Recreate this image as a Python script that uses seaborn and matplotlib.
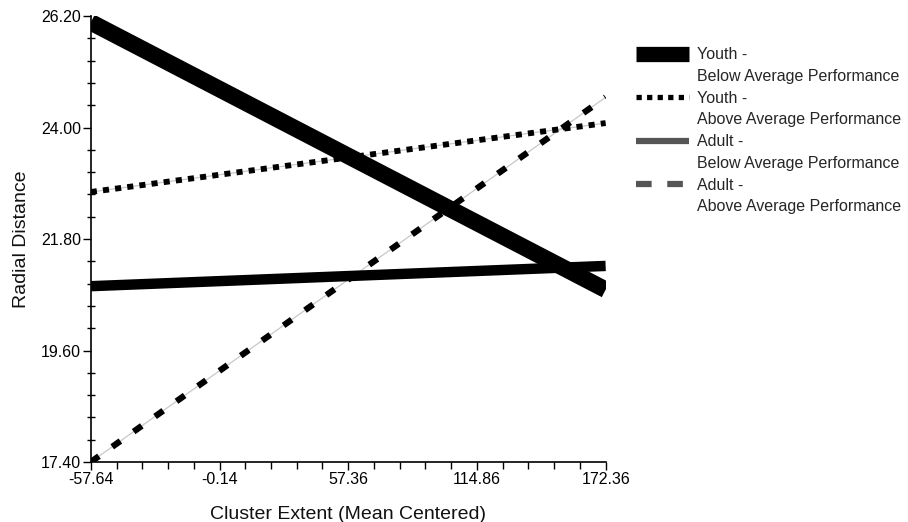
import numpy as np
import pandas as pd
import matplotlib
matplotlib.use('Agg')
import matplotlib.pyplot as plt
import seaborn as sns
from matplotlib.lines import Line2D
from matplotlib.ticker import FixedLocator

sns.set_style('white')
plt.rcParams['font.family'] = ['Liberation Sans', 'DejaVu Sans']

# Data: simple slopes at the two ends of the x range
x_ends = [-57.64, 172.36]
youth_below = [26.08, 20.80]
youth_above = [22.73, 24.09]
adult_below = [20.87, 21.27]
adult_above = [17.40, 24.60]

groups = ['Youth -', 'Youth -', 'Adult -', 'Adult -']
perf = ['Below Average Performance', 'Above Average Performance',
        'Below Average Performance', 'Above Average Performance']

x_ticks = [-57.64, -0.14, 57.36, 114.86, 172.36]
y_ticks = [17.40, 19.60, 21.80, 24.00, 26.20]

fig = plt.figure(figsize=(9.08, 5.22), dpi=100)
ax = fig.add_axes([0.100, 0.115, 0.567, 0.854])

# thin grey guide lines under the broken lines
for ys in [youth_above, adult_above]:
    sns.lineplot(x=x_ends, y=ys, ax=ax, color='#c8c8c8', linewidth=0.9, legend=False)

sns.lineplot(x=x_ends, y=youth_below, ax=ax, color='black', linewidth=12,
             solid_capstyle='butt', legend=False)
sns.lineplot(x=x_ends, y=adult_below, ax=ax, color='black', linewidth=7.5,
             solid_capstyle='butt', legend=False)
sns.lineplot(x=x_ends, y=youth_above, ax=ax, color='black', linewidth=4.2,
             linestyle=(0, (1.05, 1.05)), dash_capstyle='butt', legend=False)
sns.lineplot(x=x_ends, y=adult_above, ax=ax, color='black', linewidth=4.5,
             linestyle=(0, (1.6, 2.6)), dash_capstyle='butt', legend=False)

ax.set_xlim(x_ticks[0], x_ticks[-1])
ax.set_ylim(y_ticks[0], y_ticks[-1])
ax.xaxis.set_major_locator(FixedLocator(x_ticks))
ax.yaxis.set_major_locator(FixedLocator(y_ticks))
ax.xaxis.set_minor_locator(FixedLocator(np.arange(-57.64, 172.37, 11.5)))
ax.yaxis.set_minor_locator(FixedLocator(np.arange(17.40, 26.21, 0.44)))
ax.set_xticklabels([f'{v:.2f}' for v in x_ticks])
ax.set_yticklabels([f'{v:.2f}' for v in y_ticks])

for s in ['top', 'right']:
    ax.spines[s].set_visible(False)
for s in ['left', 'bottom']:
    ax.spines[s].set_color('black')
    ax.spines[s].set_linewidth(1.2)

ax.tick_params(axis='both', which='both', bottom=True, left=True,
               top=False, right=False)
ax.tick_params(axis='both', which='major', direction='out', length=6, width=1,
               color='black', labelsize=11.5, pad=1, labelcolor='black')
ax.tick_params(axis='y', which='minor', direction='inout', length=6, width=1,
               color='black')
ax.tick_params(axis='x', which='minor', direction='out', length=5, width=1,
               color='black')

ax.set_xlabel('Cluster Extent (Mean Centered)', fontsize=14, labelpad=14,
              color='#111111')
ax.set_ylabel('Radial Distance', fontsize=14, labelpad=8, color='#111111')

blank = Line2D([], [], linestyle='none')
handles = [
    Line2D([], [], color='black', linewidth=11, solid_capstyle='butt'), blank,
    Line2D([], [], color='black', linewidth=3.8, linestyle=(0, (1, 1)),
           dash_capstyle='butt'), blank,
    Line2D([], [], color='#555555', linewidth=4.5, solid_capstyle='butt'), blank,
    Line2D([], [], color='#555555', linewidth=4.5, linestyle=(0, (2.5, 2.5)),
           dash_capstyle='butt'), blank,
]
labels = []
for g, p in zip(groups, perf):
    labels += [g, p]
fig.legend(handles, labels, loc='upper left', bbox_to_anchor=(0.685, 0.937),
           frameon=False, fontsize=11.5, handlelength=3.3, handletextpad=0.5,
           labelspacing=0.42)

fig.savefig('out.png', dpi=100)
